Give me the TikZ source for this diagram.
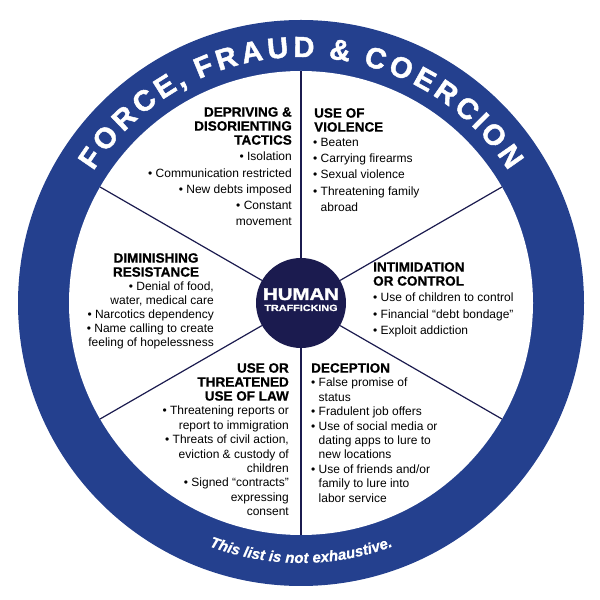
\documentclass[tikz,border=0pt]{standalone}
\usepackage{fontspec}
\setmainfont{Liberation Sans}
\newfontfamily\heavyfont[FakeBold=1.6]{Liberation Sans Bold}
\newfontfamily\headfont[FakeBold=0.8]{Liberation Sans Bold}
\newfontfamily\heavyit[FakeBold=0.6]{Liberation Sans Bold Italic}
\usetikzlibrary{calc}
\definecolor{ringblue}{HTML}{24408E}
\definecolor{navy}{HTML}{1B1B4F}
\tikzset{
  head/.style={font=\fontsize{13.5}{14}\selectfont\headfont, inner sep=0pt},
  body/.style={font=\fontsize{12}{16.2}\selectfont, inner sep=0pt},
  bodyt/.style={font=\fontsize{12}{14.4}\selectfont, inner sep=0pt},
  spoke/.style={draw=navy, line width=1.2pt},
  bigletter/.style={anchor=base, inner sep=0pt, text=white, font=\fontsize{29}{29}\selectfont\heavyfont},
  smallletter/.style={anchor=base, inner sep=0pt, text=white, font=\fontsize{15}{15}\selectfont\heavyit}
}
\begin{document}
\begin{tikzpicture}[x=1pt,y=1pt]
\useasboundingbox (0,0) rectangle (600,600);
\coordinate (C) at (301,297);
\fill[ringblue] (C) circle (283);
\fill[white] (C) circle (232);
\foreach \a [count=\i] in {90,30,-30,-90,-150,150} {
  \coordinate (s\i) at ($(C)+(\a:232)$);
}
\node[circle, fill=navy, minimum size=90pt, inner sep=0pt] (hub) at (C) {};
\foreach \i in {1,...,6} \draw[spoke] (hub) -- (s\i);
% ring texts
\foreach \ch/\m [count=\k] in {F/0.306,O/1.0,R/1.75,C/2.472,E/3.167,{,}/3.639,F/4.362,R/5.028,A/5.75,U/6.472,D/7.194,\&/8.194,C/9.194,O/9.944,E/10.667,R/11.361,C/12.083,I/12.583,O/13.111,N/13.861}
  \node[bigletter, rotate={58-8.156*\m}] (rt\k) at ($(C)+({148-8.156*\m}:246)$) {\ch};
\foreach \ch/\m [count=\k] in {T/0.306,h/0.917,i/1.361,s/1.778,l/2.473,i/2.751,s/3.168,t/3.613,i/4.196,s/4.613,n/5.475,o/6.086,t/6.558,e/7.28,x/7.836,h/8.42,a/9.003,u/9.587,s/10.17,t/10.615,i/10.92,v/11.337,e/11.893,./12.31}
  \node[smallletter, rotate={339.3+3.326*\m}] (bt\k) at ($(C)+({249.3+3.326*\m}:260)$) {\ch};
% hub text
\node[anchor=base, inner sep=0pt, text=white, font=\fontsize{17}{17}\selectfont\heavyfont] (h1) at (301,300) {\scalebox{1.2}[1]{HUMAN}};
\node[anchor=base, inner sep=0pt, text=white, font=\fontsize{9}{9}\selectfont\headfont] (h2) at (301,289) {\scalebox{1.2}[1]{TRAFFICKING}};
% blocks
\node[head, align=right, anchor=north east] (d1) at (292,493) {DEPRIVING \&\\DISORIENTING\\TACTICS};
\node[body, align=right, anchor=north east] (d1b) at (292,448) {• Isolation\\• Communication restricted\\• New debts imposed\\• Constant\\movement};
\node[head, align=left, anchor=north west] (v1) at (314,492) {USE OF\\VIOLENCE};
\node[body, align=left, anchor=north west] (v1b) at (313,462) {• Beaten\\• Carrying firearms\\• Sexual violence\\• Threatening family\\\hphantom{• }abroad};
\node[head, align=center, anchor=north] (r1) at (156,347) {DIMINISHING\\RESISTANCE};
\node[font=\fontsize{12}{14}\selectfont, inner sep=0pt, align=right, anchor=north east] (r1b) at (214,318) {• Denial of food,\\water, medical care\\• Narcotics dependency\\• Name calling to create\\feeling of hopelessness};
\node[head, align=left, anchor=north west] (i1) at (373,338) {INTIMIDATION\\OR CONTROL};
\node[body, align=left, anchor=north west] (i1b) at (373,307) {• Use of children to control\\• Financial “debt bondage”\\• Exploit addiction};
\node[head, align=right, anchor=north east] (l1) at (289,237) {USE OR\\THREATENED\\USE OF LAW};
\node[bodyt, align=right, anchor=north east] (l1b) at (289,194) {• Threatening reports or\\report to immigration\\• Threats of civil action,\\eviction \& custody of\\children\\• Signed “contracts”\\expressing\\consent};
\node[head, align=left, anchor=north west] (e1) at (311,237) {DECEPTION};
\node[bodyt, align=left, anchor=north west] (e1b) at (311,222) {• False promise of\\\hphantom{• }status\\• Fradulent job offers\\• Use of social media or\\\hphantom{• }dating apps to lure to\\\hphantom{• }new locations\\• Use of friends and/or\\\hphantom{• }family to lure into\\\hphantom{• }labor service};
\end{tikzpicture}
\end{document}
